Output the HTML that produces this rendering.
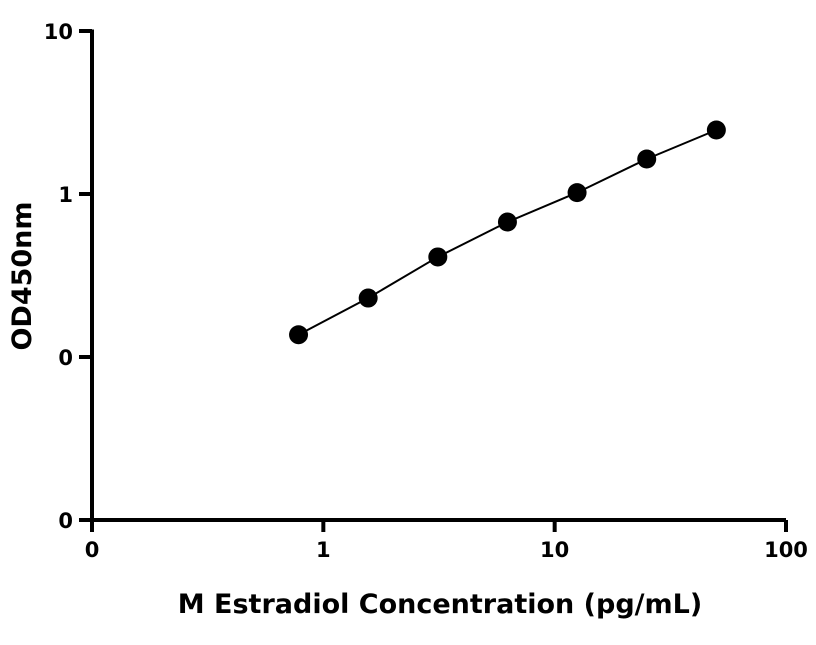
<!DOCTYPE html>
<html><head><meta charset="utf-8"><style>
html,body{margin:0;padding:0;background:#fff;}
svg text{font-family:"DejaVu Sans","Liberation Sans",sans-serif;font-weight:bold;fill:#000;}
</style></head><body>
<svg width="816" height="640" xmlns="http://www.w3.org/2000/svg">
<g id="axes"></g>
<g id="series"></g>
<text x="440" y="613" font-size="27" text-anchor="middle">M Estradiol Concentration (pg/mL)</text>
<text transform="translate(31,276) rotate(-90)" font-size="27" text-anchor="middle">OD450nm</text>
</svg>
<script>
const xValues=[0.78125,1.5625,3.125,6.25,12.5,25,50];
const yValues=[0.137,0.23,0.411,0.673,1.02,1.64,2.47];
const xTicks=[0.1,1,10,100];
const xTickLabels=["0","1","10","100"];
const yTicks=[0.01,0.1,1,10];
const yTickLabels=["0","0","1","10"];
const NS="http://www.w3.org/2000/svg";
const X0=92,X1=786,Y0=520,Y1=31;
function sx(v){return X0+(Math.log10(v)+1)/3*(X1-X0);}
function sy(v){return Y0-(Math.log10(v)+2)/3*(Y0-Y1);}
function mk(tag,attrs,parent){const e=document.createElementNS(NS,tag);for(const k in attrs)e.setAttribute(k,attrs[k]);parent.appendChild(e);return e;}
const ax=document.getElementById('axes');
let l=mk('line',{x1:X0,y1:Y1-1.5,x2:X0,y2:Y0+1.5,stroke:'#000','stroke-width':4},ax);


l=mk('line',{x1:X0-2,y1:Y0,x2:X1,y2:Y0,stroke:'#000','stroke-width':4},ax);


xTicks.forEach((t,i)=>{
  const x=sx(t);
  const tk=mk('line',{x1:x,y1:Y0,x2:x,y2:Y0+12,stroke:'#000','stroke-width':4},ax);
  
  
  const tx=mk('text',{x:x,y:557,'font-size':21,'text-anchor':'middle'},ax);
  tx.textContent=xTickLabels[i];
  
  
});
yTicks.forEach((t,i)=>{
  const y=sy(t);
  const tk=mk('line',{x1:X0-13,y1:y,x2:X0,y2:y,stroke:'#000','stroke-width':4},ax);
  
  
  const tx=mk('text',{x:73,y:y+8,'font-size':21,'text-anchor':'end'},ax);
  tx.textContent=yTickLabels[i];
  
  
});
const se=document.getElementById('series');
const pts=xValues.map((v,i)=>sx(v)+','+sy(yValues[i])).join(' ');
const pl=mk('polyline',{points:pts,fill:'none',stroke:'#000','stroke-width':2},se);


xValues.forEach((v,i)=>{
  const c=mk('circle',{cx:sx(v),cy:sy(yValues[i]),r:9.5,fill:'#000'},se);
  
  
});
</script>
</body></html>
